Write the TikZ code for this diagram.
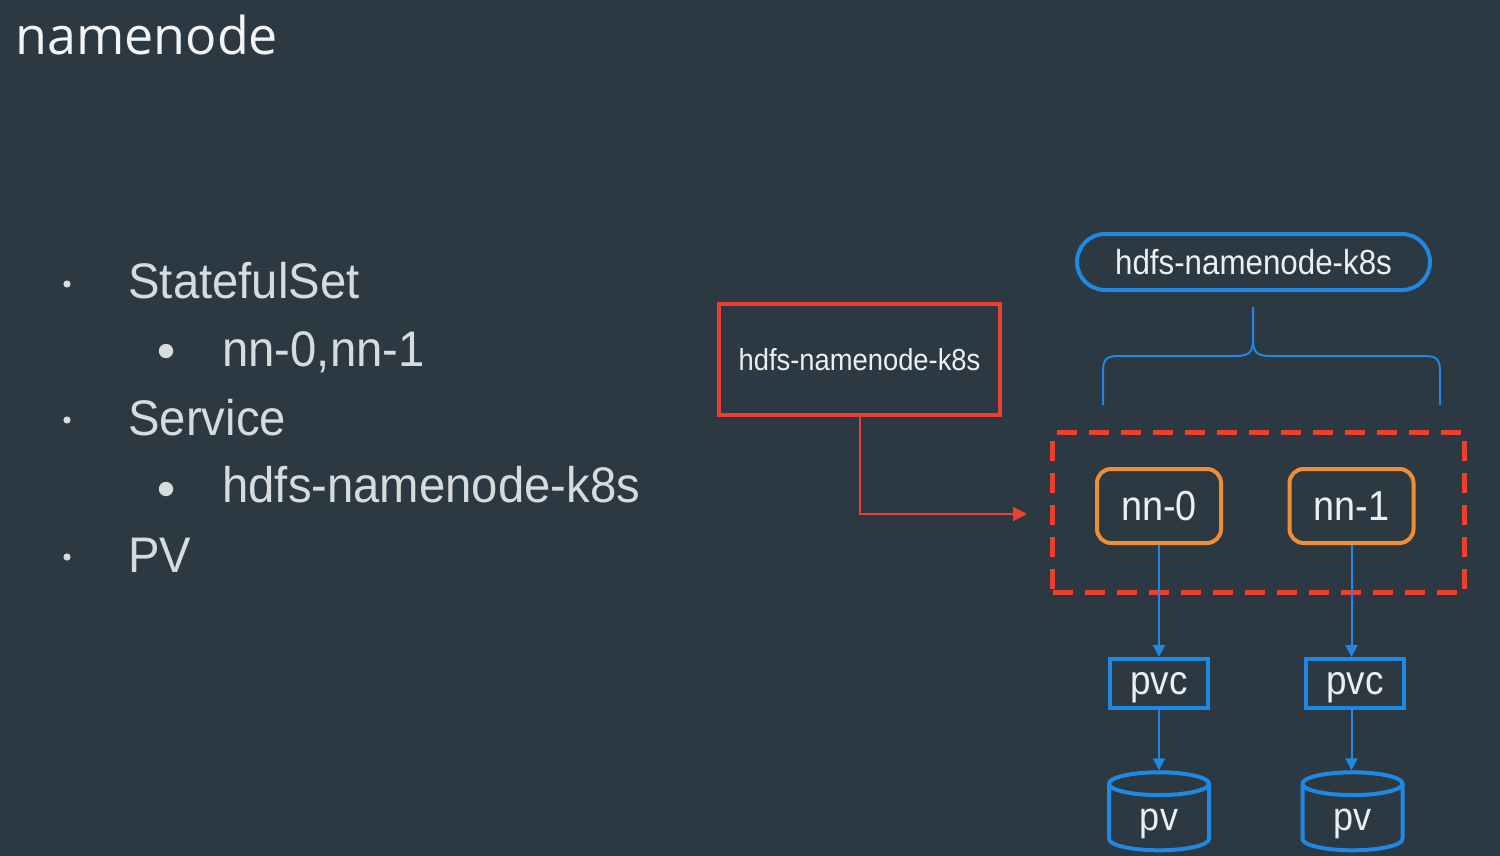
\documentclass[tikz,border=0pt]{standalone}
\usepackage{fontspec}
\setmainfont{Liberation Sans}
\newfontfamily\titlefont{Open Sans}
\newfontfamily\bulletfont[FakeStretch=0.945]{Liberation Sans}
\newfontfamily\diagfont[FakeStretch=0.9]{Liberation Sans}
\usetikzlibrary{arrows.meta,shapes.geometric}
\definecolor{bg}{RGB}{45,57,66}
\definecolor{titlecol}{RGB}{242,244,245}
\definecolor{bulletcol}{RGB}{214,219,222}
\definecolor{diagtext}{RGB}{236,239,241}
\definecolor{redc}{RGB}{236,64,46}
\definecolor{orangec}{RGB}{240,142,52}
\definecolor{bluec}{RGB}{30,136,226}
\tikzset{
  bullettext/.style={anchor=base west, inner sep=0pt, text=bulletcol, font=\bulletfont\fontsize{25}{30}\selectfont},
  dotsmall/.style={fill=bulletcol, draw=none},
  redbox/.style={draw=redc, line width=2pt, minimum width=140.5pt, minimum height=55.5pt, text=diagtext, font=\diagfont\fontsize{15.2}{18}\selectfont, inner sep=0pt},
  setbox/.style={draw=redc, line width=2.5pt, dash pattern=on 10pt off 6pt, minimum width=206pt, minimum height=80pt, inner sep=0pt},
  podbox/.style={draw=orangec, line width=2pt, rounded corners=7pt, minimum width=62pt, minimum height=37pt, text=diagtext, font=\diagfont\fontsize{21}{24}\selectfont, inner sep=0pt},
  svcpill/.style={draw=bluec, line width=2pt, rounded corners=14pt, minimum width=176.5pt, minimum height=28pt, text=diagtext, font=\diagfont\fontsize{17.4}{20}\selectfont, inner sep=0pt},
  pvcbox/.style={draw=bluec, line width=2pt, minimum width=49pt, minimum height=24.5pt, text depth=0pt, text=diagtext, font=\diagfont\fontsize{20.5}{24}\selectfont, inner sep=0pt},
  pvcyl/.style={draw=bluec, line width=2pt, cylinder, shape border rotate=90, aspect=0.6, minimum width=50pt, minimum height=39pt, text height=12.5pt, text depth=0pt, text=diagtext, font=\diagfont\fontsize{20}{24}\selectfont, inner sep=0pt},
  redline/.style={draw=redc, line width=1pt, -{Triangle[length=7pt,width=7pt]}},
  blueline/.style={draw=bluec, line width=1pt, -{Triangle[length=6pt,width=6pt]}},
  braceline/.style={draw=bluec, line width=1pt}
}
\begin{document}
\begin{tikzpicture}[x=0.5pt,y=-0.5pt]
\fill[bg] (0,0) rectangle (1500,856);
\useasboundingbox (0,0) rectangle (1500,856);

% title
\node[anchor=base west, inner sep=0pt, text=titlecol, font=\titlefont\fontsize{26}{30}\selectfont] (title) at (15,55) {namenode};

% bullets
\fill[dotsmall] (67,284) circle (1.8pt);
\node[bullettext] (b1) at (128,298) {StatefulSet};
\fill[dotsmall] (166,351) circle (3.6pt);
\node[bullettext] (b2) at (222,366) {nn-0,nn-1};
\fill[dotsmall] (67,420) circle (1.8pt);
\node[bullettext] (b3) at (128,435) {Service};
\fill[dotsmall] (166,489) circle (3.6pt);
\node[bullettext] (b4) at (222,502) {hdfs-namenode-k8s};
\fill[dotsmall] (67,557) circle (1.8pt);
\node[bullettext] (b5) at (128,572) {PV};

% diagram
\node[redbox] (svc) at (859.5,359.5) {hdfs-namenode-k8s};
\node[setbox] (set) at (1258.5,512.5) {};
\node[podbox] (nn0) at (1159,506) {nn-0};
\node[podbox] (nn1) at (1351.5,506) {nn-1};
\node[svcpill] (pill) at (1253.5,262) {hdfs-namenode-k8s};
\node[pvcbox] (pvc0) at (1159,683.5) {pvc};
\node[pvcbox] (pvc1) at (1355,683.5) {pvc};
\node[pvcyl] (pv0) at (1159,818) {pv};
\node[pvcyl] (pv1) at (1352.5,818) {pv};

\coordinate (tip) at (1027,514);
\draw[redline] (svc.south) |- (tip);

\draw[blueline] (nn0.south) -- (nn0.south |- pvc0.north);
\draw[blueline] (nn1.south) -- (nn1.south |- pvc1.north);
\draw[blueline] (pvc0.south) -- (pvc0.south |- pv0.north);
\draw[blueline] (nn1.south |- pvc1.south) -- (nn1.south |- pv1.north);

% brace
\coordinate (bl) at (1103,405);
\coordinate (br) at (1440,405);
\coordinate (bt) at (1253,307);
\draw[braceline] (bl) -- (1103,372) .. controls (1103,358) and (1107,356) .. (1120,356)
  -- (1236,356) .. controls (1249,356) and (1253,352) .. (1253,340) -- (bt);
\draw[braceline] (br) -- (1440,372) .. controls (1440,358) and (1436,356) .. (1423,356)
  -- (1270,356) .. controls (1257,356) and (1253,352) .. (1253,340);
\end{tikzpicture}
\end{document}
